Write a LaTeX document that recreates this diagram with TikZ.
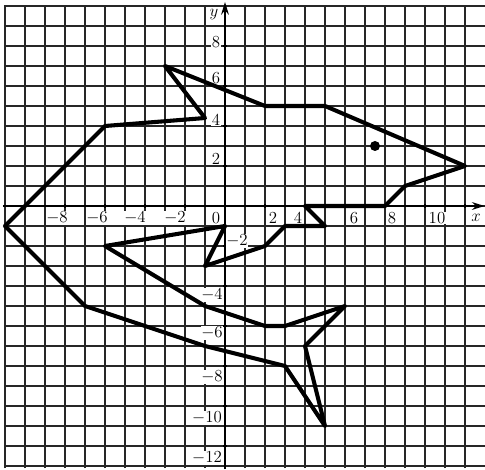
\documentclass[tikz,border=0pt]{standalone}
\usetikzlibrary{arrows.meta}
\begin{document}
\begin{tikzpicture}[x=0.5cm,y=0.5cm,
  gridline/.style={line width=0.75pt,black!85},
  axisline/.style={line width=1.4pt,-{Stealth[length=9pt,width=5.5pt]}},
  shapeline/.style={line width=2.9pt,line join=round,line cap=round},
  lab/.style={font=\fontsize{12}{14}\selectfont,fill=white,inner sep=0.5pt},
  tick/.style={line width=1.4pt}]
\useasboundingbox (-11.25,-13.2) rectangle (13.0,10.3);
% grid
\foreach \i in {-11,...,12} \draw[gridline] (\i,-13.1) -- (\i,10.05);
\foreach \j in {-13,...,10} \draw[gridline] (-11.05,\j) -- (13.0,\j);
% axes
\coordinate (xs) at (-11.1,0); \coordinate (xe) at (12.98,0);
\coordinate (ys) at (0,-13.15); \coordinate (ye) at (0,10.2);
\draw[axisline] (xs) -- (xe);
\draw[axisline] (ys) -- (ye);
\foreach \i in {-10,-8,...,12} \draw[tick] (\i,-0.12) -- (\i,0.12);
\foreach \j in {-12,-10,...,8} \draw[tick] (-0.12,\j) -- (0.12,\j);
% x labels
\node[lab] (lxm8) at (-8.4,-0.6) {$-8$};
\node[lab] (lxm6) at (-6.4,-0.6) {$-6$};
\node[lab] (lxm4) at (-4.5,-0.6) {$-4$};
\node[lab] (lxm2) at (-2.5,-0.6) {$-2$};
\node[lab] (lx0) at (-0.45,-0.6) {0};
\node[lab] (lx2) at (2.4,-0.6) {2};
\node[lab] (lx4) at (3.65,-0.6) {4};
\node[lab] (lx6) at (6.45,-0.6) {6};
\node[lab] (lx8) at (8.35,-0.6) {8};
\node[lab] (lx10) at (10.6,-0.6) {10};
\node[lab] (lxx) at (12.55,-0.6) {$x$};
% y labels
\node[lab] (lyy) at (-0.55,9.55) {$y$};
\node[lab] (ly8) at (-0.45,8.2) {8};
\node[lab] (ly6) at (-0.45,6.4) {6};
\node[lab] (ly4) at (-0.45,4.3) {4};
\node[lab] (ly2) at (-0.45,2.35) {2};
\node[lab] (lym2) at (0.6,-1.75) {$-2$};
\node[lab] (lym4) at (-0.65,-4.45) {$-4$};
\node[lab] (lym6) at (-0.65,-6.35) {$-6$};
\node[lab] (lym8) at (-0.65,-8.55) {$-8$};
\node[lab] (lym10) at (-0.9,-10.6) {$-10$};
\node[lab] (lym12) at (-0.9,-12.6) {$-12$};
% shape
\draw[shapeline] (-3,7) -- (2,5) -- (5,5) -- (12,2) -- (9,1) -- (8,0) -- (4,0)
  -- (5,-1) -- (3,-1) -- (2,-2) -- (-1,-3) -- (0,-1) -- (-6,-2) -- (-1,-5)
  -- (2,-6) -- (3,-6) -- (6,-5) -- (4,-7) -- (5,-11) -- (3,-8) -- (-1,-7)
  -- (-7,-5) -- (-11,-1) -- (-6,4) -- (-1,4.4) -- cycle;
% eye
\fill (7.5,3) circle (0.25);
\end{tikzpicture}
\end{document}
